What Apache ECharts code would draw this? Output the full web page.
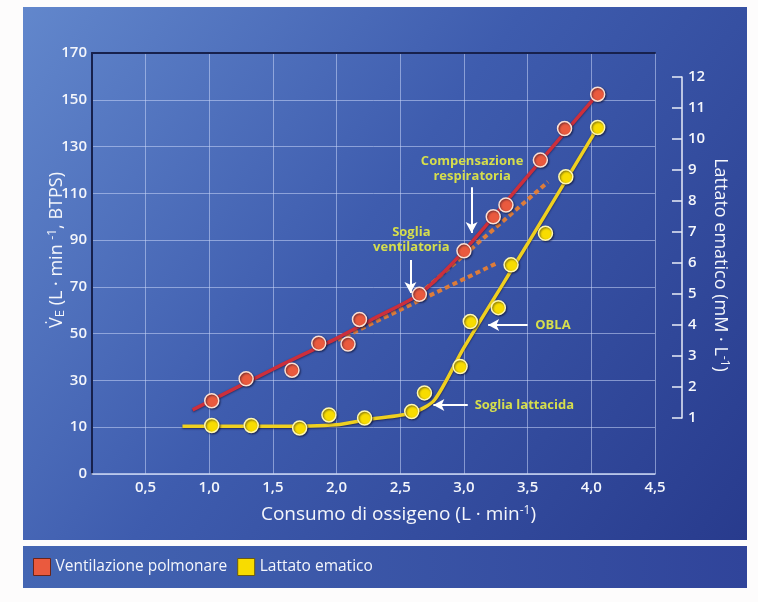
<!DOCTYPE html>
<html>
<head>
<meta charset="utf-8">
<script src="https://cdn.jsdelivr.net/npm/echarts@6/dist/echarts.min.js"></script>
<style>
  html, body { margin: 0; padding: 0; background: #fdfcfc; }
  #chart { width: 758px; height: 602px; }
</style>
</head>
<body>
<div id="chart"></div>
<script>
// ---- Tick values / labels ----
const xTickValues = [0.5, 1.0, 1.5, 2.0, 2.5, 3.0, 3.5, 4.0, 4.5];
const xTickLabels = ['0,5', '1,0', '1,5', '2,0', '2,5', '3,0', '3,5', '4,0', '4,5'];
const ventTickValues = [-10, 10, 30, 50, 70, 90, 110, 130, 150, 170];
const ventTickLabels = ['0', '10', '30', '50', '70', '90', '110', '130', '150', '170'];
const lactTickValues = [1, 2, 3, 4, 5, 6, 7, 8, 9, 10, 11, 12];

// ---- Ventilazione polmonare (L/min) measured points ----
const ventX = [1.02, 1.29, 1.65, 1.86, 2.09, 2.18, 2.65, 3.00, 3.23, 3.33, 3.60, 3.79, 4.05];
const ventY = [21.3, 30.7, 34.4, 45.9, 45.6, 56.1, 66.8, 85.4, 100.0, 105.0, 124.2, 137.7, 152.4];

// ---- Lattato ematico (mM/L) measured points ----
const lactX = [1.02, 1.33, 1.71, 1.94, 2.22, 2.59, 2.69, 2.97, 3.05, 3.27, 3.37, 3.64, 3.80, 4.05];
const lactY = [0.76, 0.76, 0.68, 1.10, 1.00, 1.21, 1.81, 2.66, 4.11, 4.56, 5.94, 6.96, 8.78, 10.37];

// ---- Fitted curves ----
const ventFitX = [0.87, 1.5, 2.0, 2.3, 2.65, 3.0, 3.5, 4.05];
const ventFitY = [17.4, 34.8, 48.0, 56.7, 66.9, 85.4, 117.4, 152.4];
const lactFitX = [0.79, 1.5, 2.0, 2.24, 2.6, 2.77, 3.0, 3.5, 4.05];
const lactFitY = [0.73, 0.73, 0.78, 0.95, 1.17, 1.59, 3.27, 6.62, 10.37];

// ---- Dashed trend extensions ----
const trend1X = [2.01, 3.26];
const trend1Y = [47.3, 80.2];
const trend2X = [2.65, 3.66];
const trend2Y = [66.9, 114.9];

// ---- Annotations ----
const annotations = [
  { text: 'Compensazione\nrespiratoria', at: [3.064, 120.3], align: 'center', arrow: [[3.06, 112.6], [3.06, 93.0]] },
  { text: 'Soglia\nventilatoria', at: [2.587, 90.2], align: 'center', arrow: [[2.58, 81.5], [2.58, 67.4]] },
  { text: 'OBLA', at: [3.56, 53.7], align: 'left', arrow: [[3.50, 53.7], [3.19, 53.7]] },
  { text: 'Soglia lattacida', at: [3.084, 19.5], align: 'left', arrow: [[3.03, 19.5], [2.76, 19.5]] }
];

const zip = (a, b) => a.map((v, i) => [v, b[i]]);
const font = '"Open Sans", "DejaVu Sans", sans-serif';
const textColor = '#f4f6fb';
const annColor = '#d6de4c';

const chart = echarts.init(document.getElementById('chart'), null, { renderer: 'canvas' });

const xLabelFmt = v => {
  const i = xTickValues.findIndex(t => Math.abs(t - v) < 1e-6);
  return i >= 0 ? xTickLabels[i] : '';
};

const option = {
  animation: false,
  backgroundColor: '#fdfcfc',
  textStyle: { fontFamily: font },
  graphic: [
    {
      type: 'rect', z: -100, silent: true,
      shape: { x: 23, y: 7, width: 724, height: 533 },
      style: {
        fill: new echarts.graphic.LinearGradient(0, 0, 1, 1, [
          { offset: 0, color: '#6287cc' },
          { offset: 0.45, color: '#3e5cae' },
          { offset: 1, color: '#283b8d' }
        ])
      }
    },
    {
      type: 'rect', z: -100, silent: true,
      shape: { x: 23, y: 546, width: 724, height: 42 },
      style: {
        fill: new echarts.graphic.LinearGradient(0, 0, 1, 0, [
          { offset: 0, color: '#4466b3' },
          { offset: 1, color: '#30449a' }
        ])
      }
    }
  ],
  legend: {
    left: 33, top: 558, padding: 0,
    itemWidth: 17, itemHeight: 17, itemGap: 10,
    textStyle: { color: textColor, fontSize: 15.5, fontFamily: font },
    data: [
      { name: 'Ventilazione polmonare', icon: 'rect', itemStyle: { color: '#ea5a3e', opacity: 1, borderColor: '#6b2418', borderWidth: 1 } },
      { name: 'Lattato ematico', icon: 'rect', itemStyle: { color: '#f8dc00', opacity: 1, borderColor: '#6b5a10', borderWidth: 1 } }
    ]
  },
  grid: [
    { left: 92, right: 103, top: 53, bottom: 128 },
    { left: 92, right: 103, top: 77, bottom: 184 }
  ],
  xAxis: [
    {
      type: 'value', gridIndex: 0, min: 0.08, max: 4.5,
      name: 'Consumo di ossigeno (L · min{sup|-1})',
      nameLocation: 'middle', nameGap: 31, nameMoveOverlap: false,
      nameTextStyle: {
        color: textColor, fontSize: 19, fontFamily: font, padding: [0, 0, 0, 50],
        rich: { sup: { fontSize: 12, color: textColor, padding: [0, 0, 8, 0], fontFamily: font } }
      },
      axisLine: { show: true, onZero: false, lineStyle: { color: '#c9d5f2', width: 1.5 } },
      axisTick: { show: false, customValues: xTickValues },
      axisLabel: { customValues: xTickValues, formatter: xLabelFmt, color: textColor, fontSize: 15, fontWeight: 600, margin: 6, fontFamily: font },
      splitLine: { show: true, lineStyle: { color: 'rgba(200,214,248,0.55)', width: 1 } }
    },
    {
      type: 'value', gridIndex: 0, min: 0.08, max: 4.5, position: 'top',
      axisLine: { show: true, onZero: false, lineStyle: { color: '#17214d', width: 2 } },
      axisTick: { show: false }, axisLabel: { show: false }, splitLine: { show: false }
    },
    {
      type: 'value', gridIndex: 1, min: 0.08, max: 4.5, show: false,
      axisLine: { onZero: false },
      splitLine: { show: false }
    }
  ],
  yAxis: [
    {
      type: 'value', gridIndex: 0, min: -10, max: 170, interval: 20,
      name: 'V\u0307{sub|E} (L · min {sup|-1}, BTPS)',
      nameLocation: 'middle', nameGap: 25, nameRotate: 90, nameMoveOverlap: false,
      nameTextStyle: {
        color: textColor, fontSize: 18, fontFamily: font, padding: [0, 0, 0, 27],
        rich: {
          sub: { fontSize: 13, color: textColor, padding: [6, 0, 0, 0], fontFamily: font },
          sup: { fontSize: 12, color: textColor, padding: [0, 0, 8, 0], fontFamily: font }
        }
      },
      axisLine: { show: true, onZero: false, lineStyle: { color: '#17214d', width: 2 } },
      axisTick: { show: false },
      axisLabel: {
        color: textColor, fontSize: 15, fontWeight: 600, margin: 5, fontFamily: font,
        formatter: v => { const i = ventTickValues.indexOf(v); return i >= 0 ? ventTickLabels[i] : ''; }
      },
      splitLine: { show: true, lineStyle: { color: 'rgba(200,214,248,0.55)', width: 1 } }
    },
    {
      type: 'value', gridIndex: 1, min: 1, max: 12, interval: 1, position: 'right', offset: 27,
      name: 'Lattato ematico (mM · L{sup|-1})',
      nameLocation: 'middle', nameGap: 28, nameRotate: -90, nameMoveOverlap: false,
      nameTextStyle: {
        color: textColor, fontSize: 18, fontFamily: font, padding: [0, 0, 0, 35],
        rich: { sup: { fontSize: 12, color: textColor, padding: [0, 0, 8, 0], fontFamily: font } }
      },
      axisLine: { show: true, onZero: false, lineStyle: { color: '#e9edf8', width: 1.5 } },
      axisTick: { show: true, inside: true, length: 10, lineStyle: { color: '#e9edf8', width: 1.5 } },
      axisLabel: { color: textColor, fontSize: 15, fontWeight: 600, margin: 6, fontFamily: font },
      splitLine: { show: false }
    }
  ],
  series: [
    {
      name: 'trend1', type: 'line', xAxisIndex: 0, yAxisIndex: 0, z: 2,
      data: zip(trend1X, trend1Y), showSymbol: false, silent: true,
      lineStyle: { color: '#dd7c3a', width: 4, type: [5, 3.5], cap: 'butt' }
    },
    {
      name: 'trend2', type: 'line', xAxisIndex: 0, yAxisIndex: 0, z: 2,
      data: zip(trend2X, trend2Y), showSymbol: false, silent: true,
      lineStyle: { color: '#dd7c3a', width: 4, type: [5, 3.5], cap: 'butt' }
    },
    {
      name: 'ventFit', type: 'line', xAxisIndex: 0, yAxisIndex: 0, z: 3,
      data: zip(ventFitX, ventFitY), showSymbol: false, smooth: 0.25, silent: true,
      lineStyle: { color: '#cc2f3c', width: 3.5, shadowColor: 'rgba(20,20,60,0.6)', shadowBlur: 2, shadowOffsetY: 1 },
      markLine: {
        silent: true, symbol: ['none', 'arrow'], symbolSize: [9, 11],
        label: { show: false },
        lineStyle: { color: '#ffffff', width: 2, type: 'solid' },
        data: annotations.map(a => [{ coord: a.arrow[0] }, { coord: a.arrow[1] }])
      },
      markPoint: {
        silent: true, symbol: 'circle', symbolSize: 0,
        data: annotations.map(a => ({
          coord: a.at,
          label: {
            show: true, formatter: a.text, position: a.align === 'left' ? 'right' : 'inside',
            distance: 0, align: a.align,
            color: annColor, fontSize: 13, fontWeight: 'bold', lineHeight: 15, fontFamily: font
          }
        }))
      }
    },
    {
      name: 'lactFit', type: 'line', xAxisIndex: 2, yAxisIndex: 1, z: 3, clip: false,
      data: zip(lactFitX, lactFitY), showSymbol: false, smooth: 0.25, silent: true,
      lineStyle: { color: '#efd020', width: 3.5, shadowColor: 'rgba(20,20,60,0.7)', shadowBlur: 2, shadowOffsetY: 1 }
    },
    {
      name: 'Ventilazione polmonare', type: 'scatter', xAxisIndex: 0, yAxisIndex: 0, z: 5,
      data: zip(ventX, ventY), symbolSize: 14,
      itemStyle: { color: '#ea5a3e', opacity: 1, borderColor: '#fbe0d4', borderWidth: 1.5, shadowColor: 'rgba(10,10,40,0.6)', shadowBlur: 2, shadowOffsetX: 1, shadowOffsetY: 1 }
    },
    {
      name: 'Lattato ematico', type: 'scatter', xAxisIndex: 2, yAxisIndex: 1, z: 5, clip: false,
      data: zip(lactX, lactY), symbolSize: 14,
      itemStyle: { color: '#f8dc00', opacity: 1, borderColor: '#fff8b0', borderWidth: 1.5, shadowColor: 'rgba(10,10,40,0.6)', shadowBlur: 2, shadowOffsetX: 1, shadowOffsetY: 1 }
    }
  ]
};

chart.setOption(option);
</script>
</body>
</html>
